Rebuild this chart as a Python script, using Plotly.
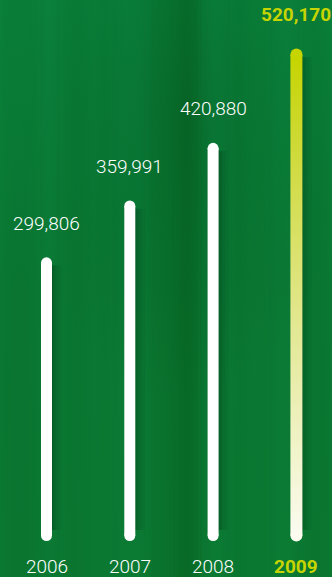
import base64
import plotly.graph_objects as go

# ---- data ----
years = [2006, 2007, 2008, 2009]
values = [299806, 359991, 420880, 520170]
value_labels = ["299,806", "359,991", "420,880", "520,170"]
year_labels = ["2006", "2007", "2008", "2009"]

# ---- geometry / style ----
W, H = 332, 577
px_per_year = 83.3
x0 = 2006 - 46.5 / px_per_year
x1 = x0 + W / px_per_year
units_per_px = 1057.0
y_lo = -36 * units_per_px
y_hi = y_lo + H * units_per_px

bar_w = 11           # px
r_units = bar_w / 2 * units_per_px
half_w_x = 6 / px_per_year
px_x = 1 / px_per_year

WHITE = "#ffffff"
LIME = "#c6d400"
BG = "#0a7b36"

# background texture as inline SVG (soft blurred streaks)
stripes = ""
stripe_specs = [(0, 40, 0.08), (60, 30, 0.08), (150, 50, 0.14), (175, 25, 0.14),
                (230, 20, 0.07), (300, 32, 0.08), (95, 18, 0.06), (255, 14, 0.06)]
for sx, sw, op in stripe_specs:
    stripes += f'<rect x="{sx}" y="-20" width="{sw}" height="{H + 40}" fill="#003d12" opacity="{op}"/>'
svg = f'''<svg xmlns="http://www.w3.org/2000/svg" width="{W}" height="{H}">
<defs><linearGradient id="g" x1="0" y1="0" x2="0" y2="1">
<stop offset="0" stop-color="#0a823d"/><stop offset="0.5" stop-color="#0a7a35"/>
<stop offset="1" stop-color="#0b7a33"/></linearGradient>
<radialGradient id="r" cx="0.55" cy="0.2" r="0.5"><stop offset="0" stop-color="#003a10" stop-opacity="0.18"/>
<stop offset="1" stop-color="#003a10" stop-opacity="0"/></radialGradient>
<filter id="b" x="-0.2" y="-0.2" width="1.4" height="1.4"><feGaussianBlur stdDeviation="6 2"/></filter></defs>
<rect width="{W}" height="{H}" fill="url(#g)"/><g filter="url(#b)">{stripes}</g>
<rect width="{W}" height="{H}" fill="url(#r)"/></svg>'''
src = "data:image/svg+xml;base64," + base64.b64encode(svg.encode()).decode()

fig = go.Figure()

# soft shadows to the right of each bar
for yr, v in zip(years, values):
    for dx, w, op in [(7, 16, 0.06), (6, 12, 0.08), (5, 8, 0.10), (4, 5, 0.12)]:
        fig.add_trace(go.Scatter(
            x=[yr + dx * px_x, yr + dx * px_x], y=[r_units * 2, v - r_units * 1.5],
            mode="lines", line=dict(color=f"rgba(0,35,10,{op})", width=w),
            hoverinfo="skip", showlegend=False))

# white bars
for yr, v in zip(years[:-1], values[:-1]):
    fig.add_trace(go.Scatter(
        x=[yr, yr], y=[r_units, v - r_units], mode="lines+markers",
        line=dict(color=WHITE, width=bar_w),
        marker=dict(color=WHITE, size=bar_w, line=dict(width=0)),
        hoverinfo="skip", showlegend=False))

# highlighted bar with gradient
yr, v = years[-1], values[-1]
fig.add_trace(go.Scatter(
    x=[yr - half_w_x, yr + half_w_x, yr + half_w_x, yr - half_w_x, yr - half_w_x],
    y=[r_units, r_units, v - r_units, v - r_units, r_units],
    mode="lines", line=dict(width=0), fill="toself",
    fillgradient=dict(type="vertical",
                      colorscale=[[0, "#fbfbf0"], [0.45, "#e2e78f"], [0.8, "#cfda3a"], [1, LIME]]),
    hoverinfo="skip", showlegend=False))
fig.add_trace(go.Scatter(
    x=[yr, yr], y=[r_units, v - r_units], mode="markers",
    marker=dict(color=["#fbfbf0", LIME], size=12, line=dict(width=0)),
    hoverinfo="skip", showlegend=False))

# labels
for i, (yr, v) in enumerate(zip(years, values)):
    hi = i == len(years) - 1
    fig.add_annotation(
        x=yr, y=v, yanchor="middle", yshift=34, showarrow=False,
        text=f"<b>{value_labels[i]}</b>" if hi else value_labels[i],
        font=dict(family="Roboto", size=19, color=LIME if hi else WHITE,
                  weight=700 if hi else 300))
    fig.add_annotation(
        x=yr, y=-25 * units_per_px, yanchor="middle", showarrow=False,
        text=f"<b>{year_labels[i]}</b>" if hi else year_labels[i],
        font=dict(family="Roboto", size=19, color=LIME if hi else WHITE,
                  weight=700 if hi else 300))

fig.update_layout(
    width=W, height=H, margin=dict(l=0, r=0, t=0, b=0),
    paper_bgcolor=BG, plot_bgcolor="rgba(0,0,0,0)",
    xaxis=dict(range=[x0, x1], visible=False, fixedrange=True),
    yaxis=dict(range=[y_lo, y_hi], visible=False, fixedrange=True),
    images=[dict(source=src, xref="paper", yref="paper", x=0, y=1, sizex=1, sizey=1,
                 sizing="stretch", layer="below", xanchor="left", yanchor="top")],
    showlegend=False,
)

fig.write_html("out.html", config={"displayModeBar": False},
               post_script="document.body.style.margin='0';document.body.style.overflow='hidden';")
